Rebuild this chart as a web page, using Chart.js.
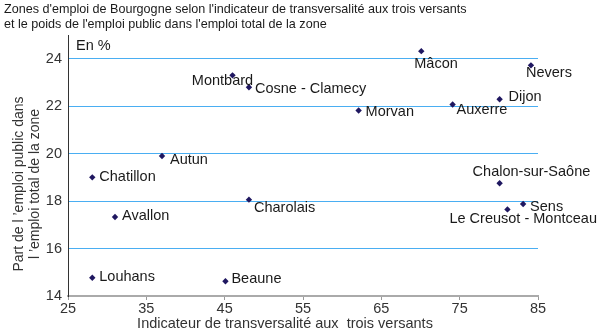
<!DOCTYPE html>
<html>
<head>
<meta charset="utf-8">
<script src="https://cdn.jsdelivr.net/npm/chart.js@4/dist/chart.umd.min.js"></script>
<style>
html,body{margin:0;padding:0;background:#fff;}
#wrap{position:relative;width:600px;height:328px;}
</style>
</head>
<body>
<div id="wrap"><canvas id="c" width="600" height="328"></canvas></div>
<script>
const zones = ["Montbard","Cosne - Clamecy","Autun","Chatillon","Avallon","Charolais","Louhans","Beaune","Mâcon","Nevers","Dijon","Auxerre","Morvan","Chalon-sur-Saône","Sens","Le Creusot - Montceau"];
const transversalite = [46.0,48.1,37.0,28.1,31.0,48.1,28.1,45.1,70.1,84.1,80.1,74.1,62.1,80.1,83.1,81.1];
const emploiPublic = [23.3,22.8,19.9,19.0,17.33,18.06,14.77,14.62,24.32,23.72,22.29,22.07,21.82,18.75,17.88,17.65];
const xTicks = [25,35,45,55,65,75,85];
const yTicks = [14,16,18,20,22,24];

// label placement (style only): dx, dy relative to point, alignment
const labelPlace = {
  "Montbard":[-10,6,"center"],
  "Cosne - Clamecy":[6,2,"left"],
  "Autun":[8,4,"left"],
  "Chatillon":[7,0,"left"],
  "Avallon":[7,-1,"left"],
  "Charolais":[5,8,"left"],
  "Louhans":[7,-1,"left"],
  "Beaune":[6,-2,"left"],
  "Mâcon":[-7,13,"left"],
  "Nevers":[-5,8,"left"],
  "Dijon":[9,-2,"left"],
  "Auxerre":[4,5,"left"],
  "Morvan":[7,2,"left"],
  "Chalon-sur-Saône":[-27,-11,"left"],
  "Sens":[7,3,"left"],
  "Le Creusot - Montceau":[-58,10,"left"]
};

const FONT = "'Liberation Sans', Arial, sans-serif";

const labelsPlugin = {
  id:'labelsPlugin',
  afterDatasetsDraw(chart){
    const ctx = chart.ctx;
    const meta = chart.getDatasetMeta(0);
    ctx.save();
    ctx.font = "14.5px " + FONT;
    ctx.fillStyle = "#1a1a1a";
    ctx.textBaseline = "middle";
    meta.data.forEach((pt,i)=>{
      const p = labelPlace[zones[i]] || [6,0,"left"];
      ctx.textAlign = p[2];
      ctx.fillText(zones[i], pt.x + p[0], pt.y + p[1]);
    });
    ctx.restore();
  },
  afterDraw(chart){
    const ctx = chart.ctx;
    const a = chart.chartArea;
    ctx.save();
    ctx.fillStyle = "#1a1a1a";
    ctx.font = "12.6px " + FONT;
    ctx.textAlign = "left";
    ctx.textBaseline = "alphabetic";
    ctx.fillText("Zones d'emploi de Bourgogne selon l'indicateur de transversalité aux trois versants", 4, 13);
    ctx.fillText("et le poids de l'emploi public dans l'emploi total de la zone", 4, 28);
    ctx.font = "14.5px " + FONT;
    ctx.textBaseline = "middle";
    ctx.fillText("En %", a.left + 8, 46);
    ctx.fillStyle = "#333";
    ctx.textAlign = "center";
    ctx.textBaseline = "alphabetic";
    ctx.fillText("Indicateur de transversalité aux  trois versants", 285, 328);
    ctx.save();
    ctx.font = "14px " + FONT;
    ctx.translate(23, 184);
    ctx.rotate(-Math.PI/2);
    ctx.fillText("Part de l ’emploi public dans", 0, 0);
    ctx.fillText("l ’emploi total de la zone", 0, 16);
    ctx.restore();
    ctx.restore();
  }
};

new Chart(document.getElementById('c'), {
  type:'scatter',
  data:{
    datasets:[{
      data: transversalite.map((x,i)=>({x:x, y:emploiPublic[i]})),
      pointStyle:'rectRot',
      radius:3.2,
      backgroundColor:'#1f1760',
      borderColor:'#1f1760',
      borderWidth:0
    }]
  },
  options:{
    responsive:false,
    animation:false,
    devicePixelRatio:1,
    layout:{padding:{left:0,top:35,right:62,bottom:0}},
    plugins:{legend:{display:false},tooltip:{enabled:false},title:{display:false}},
    scales:{
      x:{
        type:'linear', min:25, max:85,
        afterFit(s){ s.height = 32; },
        afterBuildTicks(s){ s.ticks = xTicks.map(v=>({value:v})); },
        grid:{display:true, drawOnChartArea:false, drawTicks:true, tickLength:4, color:'#999'},
        border:{display:true, color:'#aaa', width:2},
        ticks:{color:'#333', font:{size:14.5, family:FONT}, padding:0, maxRotation:0}
      },
      y:{
        type:'linear', min:14, max:25,
        afterFit(s){ s.width = 68; },
        afterBuildTicks(s){ s.ticks = yTicks.map(v=>({value:v})); },
        grid:{color:(c)=> c.tick && c.tick.value===14 ? 'rgba(0,0,0,0)' : '#4aaef2', drawTicks:false, lineWidth:1},
        border:{display:true, color:'#333', width:1},
        ticks:{color:'#333', font:{size:14.5, family:FONT}, padding:6}
      }
    }
  },
  plugins:[labelsPlugin]
});
</script>
</body>
</html>
